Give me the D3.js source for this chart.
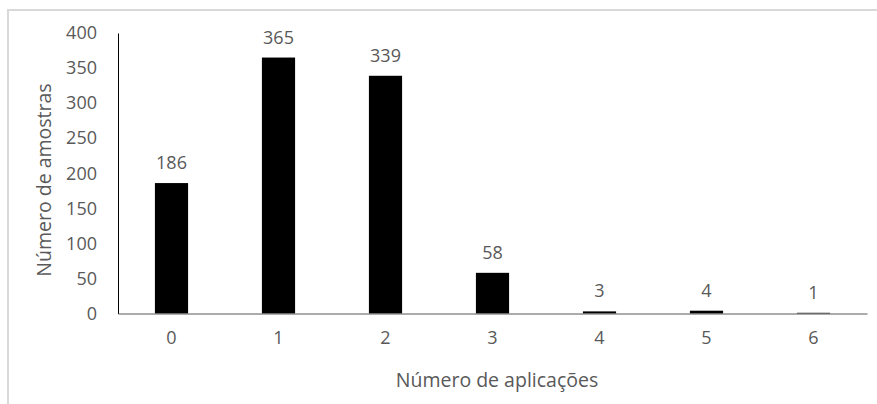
<!DOCTYPE html>
<html>
<head>
<meta charset="utf-8">
<script src="https://cdn.jsdelivr.net/npm/d3@7"></script>
<style>
  html, body { margin: 0; padding: 0; background: #fff; }
  svg { display: block; }
  text { font-family: "Open Sans", "Noto Sans", sans-serif; fill: #595959; }
</style>
</head>
<body>
<svg id="chart" width="877" height="404"></svg>
<script>
// Distribution of samples by number of applications
const categories = ["0", "1", "2", "3", "4", "5", "6"];
const counts = [186, 365, 339, 58, 3, 4, 1];
const yTicks = [0, 50, 100, 150, 200, 250, 300, 350, 400];
const xTitle = "Número de aplicações";
const yTitle = "Número de amostras";

const svg = d3.select("#chart");
const margin = { left: 118, top: 33 };
const W = 877, H = 404;
const plotRight = 867;
const plotBottom = 313.5;

// chart frame
svg.append("rect")
  .attr("x", 8).attr("y", 10)
  .attr("width", W).attr("height", H)
  .attr("fill", "none")
  .attr("stroke", "#d9d9d9")
  .attr("stroke-width", 2);

const x = d3.scaleBand()
  .domain(categories)
  .range([margin.left, plotRight])
  .paddingInner(0.69)
  .paddingOuter(0.345);

const y = d3.scaleLinear()
  .domain([0, 400])
  .range([plotBottom, margin.top]);

// bars
svg.append("g")
  .selectAll("rect")
  .data(counts)
  .join("rect")
  .attr("x", (d, i) => x(categories[i]))
  .attr("width", x.bandwidth())
  .attr("y", d => y(d))
  .attr("height", d => plotBottom - y(d))
  .attr("fill", "#000");

// value labels
svg.append("g")
  .selectAll("text")
  .data(counts)
  .join("text")
  .attr("x", (d, i) => x(categories[i]) + x.bandwidth() / 2)
  .attr("y", d => y(d) - 14)
  .attr("text-anchor", "middle")
  .attr("font-size", 18)
  .text(d => d);

// y axis
const yAxis = d3.axisLeft(y).tickValues(yTicks).tickSize(0).tickPadding(21);
const gy = svg.append("g")
  .attr("transform", `translate(${margin.left},0)`)
  .call(yAxis);
gy.select(".domain").attr("stroke", "#000").attr("stroke-width", 1);
gy.selectAll("text")
  .attr("font-size", 18)
  .attr("font-family", "\"Open Sans\", sans-serif")
  .attr("fill", "#595959");

// x axis
const xAxis = d3.axisBottom(x).tickSize(0).tickPadding(18);
const gx = svg.append("g")
  .attr("transform", `translate(0,${plotBottom})`)
  .call(xAxis);
gx.select(".domain").attr("stroke", "#595959").attr("stroke-width", 1);
gx.selectAll("text")
  .attr("font-size", 18)
  .attr("font-family", "\"Open Sans\", sans-serif")
  .attr("fill", "#595959");

// axis titles
svg.append("text")
  .attr("x", 497)
  .attr("y", 387)
  .attr("text-anchor", "middle")
  .attr("font-size", 19.5)
  .text(xTitle);

svg.append("text")
  .attr("transform", `translate(51,180) rotate(-90)`)
  .attr("text-anchor", "middle")
  .attr("font-size", 19.5)
  .text(yTitle);
</script>
</body>
</html>
